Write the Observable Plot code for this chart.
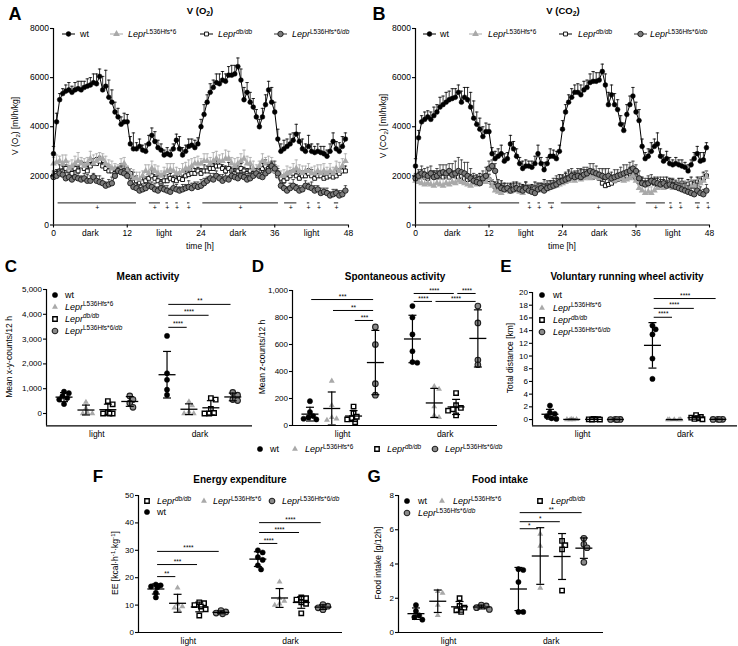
<!DOCTYPE html>
<html><head><meta charset="utf-8">
<script src="https://cdn.jsdelivr.net/npm/d3@7"></script>
<script src="https://cdn.jsdelivr.net/npm/@observablehq/plot@0.6"></script>
<style>
body{margin:0;background:#fff}
#fig{position:relative;width:738px;height:646px;overflow:hidden;font-family:"Liberation Sans",Arial,sans-serif;color:#000;background:#fff}
.t{position:absolute;white-space:nowrap;line-height:1}
.t sup{font-size:72%;position:relative;top:-0.5em;vertical-align:baseline;line-height:0}
.t sub{font-size:72%;position:relative;top:0.3em;vertical-align:baseline;line-height:0}
</style></head><body><div id="fig"></div>
<script>
// ---------------- DATA ----------------
const hours = [0,0.5,1,1.5,2,2.5,3,3.5,4,4.5,5,5.5,6,6.5,7,7.5,8,8.5,9,9.5,10,10.5,11,11.5,12,12.5,13,13.5,14,14.5,15,15.5,16,16.5,17,17.5,18,18.5,19,19.5,20,20.5,21,21.5,22,22.5,23,23.5,24,24.5,25,25.5,26,26.5,27,27.5,28,28.5,29,29.5,30,30.5,31,31.5,32,32.5,33,33.5,34,34.5,35,35.5,36,36.5,37,37.5,38,38.5,39,39.5,40,40.5,41,41.5,42,42.5,43,43.5,44,44.5,45,45.5,46,46.5,47,47.5];
const timeTicks = [0,6,12,18,24,30,36,42,48];
const timeTickLabels = ["0","dark","12","light","24","dark","36","light","48"];
const timeValueTicks = [0,2000,4000,6000,8000];

// V(O2)
const vo2Wt = [2900,4200,5100,5350,5450,5500,5400,5500,5550,5500,
 5600,5650,5700,5800,5750,6050,5500,5650,5200,5000,
 4600,4400,4100,4200,4200,3300,3100,3100,3200,3050,
 3000,3300,3650,3400,3150,3050,2850,2900,2850,3100,
 3450,3100,2850,3000,3200,3250,3150,3300,4000,4500,
 5000,5400,5600,5800,5750,5900,5850,6100,6100,6150,
 6450,5900,5100,5400,5000,4800,4400,4000,4400,4900,
 5500,5000,4600,3500,3000,3100,3200,3300,3450,3700,
 3400,3100,3000,3200,3000,2950,3000,2950,2900,2800,
 3000,3400,3100,3000,3200,3500];
const vo2WtErr = [300,350,250,200,250,300,250,300,300,350,
 250,300,300,350,400,300,550,650,700,500,
 400,350,300,350,300,300,650,250,300,200,
 300,350,300,400,300,250,200,250,200,200,
 250,500,300,250,300,250,300,250,300,400,
 300,350,300,350,400,350,300,350,400,350,
 350,450,500,400,400,350,300,300,350,400,
 350,600,400,400,300,350,300,400,300,400,
 350,400,300,450,300,250,300,250,300,250,
 300,350,300,350,400,250];
const vo2L536 = [2500,2550,2600,2500,2600,2300,2400,2500,2600,2500,
 2400,2500,2700,2500,2600,2700,2700,2500,2400,2300,
 2300,2200,2400,2500,2200,2000,1900,1900,1850,2000,
 2200,2100,2300,2200,2100,2000,2100,2200,2250,2200,
 2100,2100,2200,2300,2300,2400,2500,2500,2500,2600,
 2600,2500,2600,2700,2600,2600,2700,2700,2500,2400,
 2500,2600,2700,2500,2500,2300,2200,2400,2600,2500,
 2500,2400,2200,2100,2000,2000,2100,2100,2200,2300,
 2200,2100,2200,2200,2100,2100,2200,2100,2200,2100,
 2200,2100,2300,2200,2400,2600];
const vo2L536Err = [250,300,200,350,250,300,250,300,350,250,
 300,250,300,350,300,250,200,300,250,300,
 200,250,300,250,200,300,350,250,300,200,
 250,350,300,250,300,200,250,300,250,300,
 250,200,300,250,350,300,250,300,200,300,
 300,250,350,300,250,300,350,300,250,300,
 250,300,350,300,250,300,250,200,300,250,
 300,350,250,300,200,250,300,250,300,350,
 250,300,200,300,250,300,250,350,300,250,
 300,250,300,350,300,300];
const vo2Db = [2000,2100,2200,2200,2300,2200,2100,2300,2200,2400,
 2300,2200,2400,2500,2500,2600,2400,2300,2200,2200,
 2100,2200,2300,2200,2200,2100,1900,1800,1700,1750,
 1800,1900,2000,1900,1800,1700,1800,1800,1900,1850,
 1800,1900,1850,2000,2050,2100,2100,2200,2100,2200,
 2200,2300,2300,2400,2400,2300,2200,2300,2200,2100,
 2200,2300,2200,2100,2200,2100,2100,2200,2300,2400,
 2300,2400,2200,2000,1900,1800,1900,2000,2100,2000,
 1900,2000,2000,2100,2000,1900,2000,2000,1900,1950,
 2000,1950,2000,2100,2200,2200];
const vo2DbErr = [200,150,250,200,150,200,250,150,200,200,
 250,200,150,200,250,200,150,200,250,150,
 200,150,200,250,150,200,250,200,150,200,
 150,200,250,150,200,150,200,250,200,150,
 200,250,150,200,150,250,200,150,200,250,
 200,150,200,250,200,150,200,250,150,200,
 250,200,150,200,250,200,150,200,200,250,
 200,150,250,200,150,200,250,200,150,200,
 250,200,150,200,250,150,200,150,250,200,
 150,200,250,200,150,200];
const vo2Het = [1950,2000,2100,2050,1900,1950,1850,1950,1900,1850,
 1900,1800,1800,1950,1800,1750,1700,1600,1650,1700,
 2000,2200,2150,2100,2000,1700,1550,1500,1400,1450,
 1500,1600,1550,1450,1400,1500,1450,1400,1350,1500,
 1450,1400,1450,1500,1550,1500,1600,1550,1600,1700,
 1800,1900,1850,2000,1900,1800,1900,1850,2000,1950,
 1900,2000,1950,1850,1900,2000,2100,2000,1950,2100,
 2200,2400,2300,2100,1600,1500,1400,1500,1600,1500,
 1400,1450,1600,1550,1500,1400,1450,1300,1350,1300,
 1200,1250,1300,1200,1250,1400];
const vo2HetErr = [200,250,150,200,250,200,150,250,200,150,
 200,250,200,150,200,250,200,150,200,250,
 200,150,250,200,150,200,150,200,250,150,
 200,150,200,250,150,200,150,200,150,250,
 200,150,200,150,250,200,150,200,250,200,
 150,200,250,200,150,250,200,150,200,250,
 200,150,200,250,200,150,200,250,200,150,
 250,200,300,200,150,200,150,200,250,150,
 200,150,200,150,250,200,150,200,150,200,
 150,200,150,200,150,200];

// V(CO2)
const vco2Wt = [2400,3550,4200,4300,4400,4300,4450,4600,4800,4900,
 5000,5100,5150,5200,5400,5000,5200,5100,4800,4350,
 4100,3900,3600,3800,3800,2900,2700,2800,2900,2600,
 2700,3300,3100,2800,2500,2300,2400,2400,2350,2500,
 2900,2500,2250,2500,2800,2800,2700,3000,3900,4600,
 5000,5200,5400,5400,5300,5500,5600,5800,5850,5850,
 5900,6250,5700,4900,5300,4900,4700,4100,3850,4500,
 4900,5250,4600,4250,3200,2700,2800,3000,3200,3300,
 2800,2600,2700,2500,2450,2500,2450,2400,2350,2200,
 2450,2700,2900,2600,2650,3150];
const vco2WtErr = [300,300,250,300,250,300,350,300,400,350,
 400,350,400,350,300,450,400,500,600,700,
 500,450,400,350,300,250,300,300,350,300,
 250,350,300,300,250,300,250,200,250,300,
 350,250,300,250,300,250,300,250,350,300,
 300,350,300,350,400,350,300,350,400,350,
 300,300,450,500,400,450,400,350,300,400,
 350,350,400,450,300,250,300,350,300,450,
 300,250,300,250,200,250,200,250,200,250,
 200,250,300,350,300,200];
const vco2L536 = [1800,1750,1700,1650,1700,1650,1600,1700,1650,1600,
 1700,1650,1750,1700,1800,1750,1700,1650,1600,1700,
 1650,1700,1800,1750,1900,1600,1400,1350,1300,1400,
 1400,1350,1450,1400,1350,1300,1400,1450,1350,1400,
 1450,1400,1500,1450,1500,1550,1600,1650,1700,1750,
 1800,1850,1800,1900,1850,1900,1950,1900,2000,1950,
 1900,2000,1950,1900,1850,1800,1850,1900,1800,1850,
 1900,2000,1800,1500,1400,1300,1350,1300,1400,1500,
 1550,1500,1600,1550,1500,1600,1550,1500,1600,1500,
 1550,1600,1650,1700,1800,1950];
const vco2L536Err = [250,300,200,250,350,300,250,300,200,250,
 300,250,350,300,250,200,250,300,250,200,
 250,200,300,250,200,250,200,250,200,250,
 200,250,200,250,300,200,250,200,250,200,
 250,200,250,300,250,200,250,300,250,200,
 300,250,200,250,300,250,200,250,300,250,
 200,250,300,250,200,250,300,200,250,300,
 250,200,300,250,200,250,200,250,300,250,
 200,250,200,250,300,250,200,250,200,250,
 300,250,200,250,300,250];
const vco2Db = [1900,1950,2000,1950,1900,2000,2050,1950,2000,1950,
 2000,1950,2050,2000,1950,2000,1900,1850,1900,1800,
 1850,1900,1800,1900,1850,1700,1550,1500,1550,1500,
 1450,1500,1550,1500,1450,1500,1550,1500,1450,1500,
 1550,1500,1600,1550,1600,1650,1700,1800,1850,1900,
 1950,2000,1950,2050,2000,2050,2100,2000,1950,2000,
 1900,1700,1600,1650,1700,1800,1850,1900,1950,2000,
 2100,2000,1900,1750,1700,1650,1700,1750,1700,1650,
 1700,1650,1700,1750,1650,1600,1650,1700,1600,1650,
 1700,1650,1750,1800,1900,2000];
const vco2DbErr = [150,200,250,200,150,200,150,250,200,150,
 200,250,150,200,150,200,250,200,150,200,
 150,200,250,150,200,150,200,150,250,200,
 150,200,150,250,200,150,200,150,200,250,
 150,200,250,150,200,150,200,250,150,200,
 250,150,200,150,250,200,150,200,250,150,
 200,150,250,200,150,200,250,150,200,150,
 250,200,150,200,250,150,200,150,200,250,
 150,200,250,150,200,150,250,200,150,200,
 250,150,200,150,250,200];
const vco2Het = [1900,2000,2100,2050,2000,2100,1950,2000,2100,2150,
 2100,2200,2050,2100,2200,2150,2100,2000,1900,1800,
 1750,1700,1900,2000,2300,2400,2200,1600,1500,1450,
 1500,1400,1450,1500,1450,1400,1500,1400,1350,1300,
 1450,1500,1400,1500,1550,1600,1650,1750,1800,1850,
 1900,2000,1950,2000,1950,2050,2100,2200,2150,2100,
 2050,2000,1950,2000,1900,1950,2000,2050,2100,2150,
 2200,2300,2200,1900,1700,1650,1700,1800,1750,1700,
 1650,1700,1600,1650,1600,1550,1500,1450,1400,1350,
 1300,1250,1400,1300,1250,1400];
const vco2HetErr = [200,250,300,250,350,300,250,300,350,300,
 350,300,450,500,550,500,450,550,400,300,
 300,250,300,350,300,250,300,250,200,250,
 200,250,300,200,250,200,250,200,250,300,
 250,200,250,300,250,300,350,300,250,300,
 350,300,250,300,350,300,250,300,350,300,
 250,300,350,300,250,300,250,300,350,300,
 350,300,250,300,200,250,300,250,200,250,
 300,250,200,250,300,250,200,250,300,250,
 200,250,300,250,200,250];

// significance (+) bars: [start h, end h]
const sigO2 = [[0.75,13.5],[15.6,17.4],[18.3,18.7],[19.9,20.3],[21.8,22.2],[24.3,36.6],[37.6,39.6],[41.3,41.7],[43,43.4],[45.7,46.4]];
const sigCO2 = [[0.65,17],[18.4,18.8],[20,20.4],[21.7,22.7],[23.8,36],[37.7,40.8],[41.5,41.9],[43.1,43.5],[45.7,46.5],[47.6,48]];

// scatter panels: [wt, LeprL536Hfs*6, Lepr db/db, LeprL536Hfs*6/db]
const phases = ["light","dark"];
const cLight = [[880,820,700,620,560,380],[460,210,30,0,0],[500,370,50,0,0,0],[710,560,420,250]];
const cDark  = [[3130,1620,1360,960,750],[480,320,60,0,0],[620,560,180,20,0,0],[850,740,560,520]];
const cTicks = [0,1000,2000,3000,4000,5000];
const cSig = [[1,0,3,4400,"**"],[1,0,2,3960,"****"],[1,0,1,3475,"****"]];

const dLight = [[180,100,70,60,50,45],[330,150,60,50,40],[140,90,65,55,45,25],[730,600,310,225]];
const dDark  = [[885,800,675,550,465,470],[290,270,140,75,60],[240,150,130,120,110,75],[885,760,485,450]];
const dTicks = [0,200,400,600,800,1000];
const dSig = [[0,0,3,933,"***"],[0,1,3,852,"**"],[0,2,3,778,"***"],[1,0,2,978,"****"],[1,2,3,978,"****"],[1,0,1,919,"****"],[1,1,3,919,"****"]];

const eLight = [[2.2,1.1,0.9,0.5,0.2,0.1],[0.05,0.03,0.02,0,0],[0.1,0.06,0.03,0.02,0,0],[0.04,0.02,0.01,0]];
const eDark  = [[14.8,14.2,13.4,9.6,6.4],[0,0,0,0,0],[0.7,0.4,0.3,0.2,0.1,0.05],[0.05,0.03,0.02,0.01]];
const eTicks = [0,2,4,6,8,10,12,14,16,18,20];
const eSig = [[1,0,3,19.05,"****"],[1,0,2,17.5,"****"],[1,0,1,16.1,"****"]];

const fLight = [[17.5,17.2,16.8,16.5,14.5,12.8],[16.3,10.5,9.5,9.0,8.0],[11.0,10.7,10.0,9.5,8.5,6.2],[8.0,7.5,7.1,6.8]];
const fDark  = [[30.0,29.2,27.5,26.5,24.5,23.0],[18.5,12.5,11.5,10.5,10.0],[12.8,12.5,12.0,11.0,10.5,7.0],[10.2,9.6,9.0,8.3]];
const fTicks = [0,10,20,30,40,50];
const fSig = [[0,0,3,29.6,"****"],[0,0,2,24.8,"***"],[0,0,1,20.4,"**"],[1,0,3,40.1,"****"],[1,0,2,36.5,"****"],[1,0,1,32.5,"****"]];

const gLight = [[1.6,1.25,1.0,0.9,0.75],[2.4,2.3,1.6,1.0],[2.0,1.55,1.45,1.3,1.2],[1.6,1.55,1.45,1.35]];
const gDark  = [[3.7,3.65,2.95,1.2,1.2],[5.75,5.05,2.6],[5.35,5.1,4.85,2.45],[5.5,5.15,4.95,4.1]];
const gTicks = [0,2,4,6,8];
const gSig = [[1,0,3,7.0,"**"],[1,0,2,6.47,"*"],[1,0,1,6.06,"*"]];

// ---------------- STYLE / LAYOUT ----------------
const fig = document.getElementById("fig");
const W = 738, H = 646;
const FONT = '"Liberation Sans", Arial, sans-serif';
const KEYS = ["wt","l536","db","het"];
const STY = {
  wt:   {symbol: "circle",   fill: "#000",    stroke: "#000", sw: 0.5, r: 2.4, line: "#000",    err: "#000"},
  l536: {symbol: "triangle", fill: "#a9a9a9", stroke: "none", sw: 0,   r: 2.5, line: "#a9a9a9", err: "#a9a9a9"},
  db:   {symbol: "square",   fill: "#fff",    stroke: "#000", sw: 0.9, r: 2.2, line: "#000",    err: "#000"},
  het:  {symbol: "circle",   fill: "#7a7a7a", stroke: "#1a1a1a", sw: 0.9, r: 2.7, line: "#333", err: "#333"}
};
const SC = { // scatter marker styles
  wt:   {symbol: "circle",   fill: "#000",    stroke: "#000", sw: 0.5, r: 2.6},
  l536: {symbol: "triangle", fill: "#a9a9a9", stroke: "none", sw: 0,   r: 2.2},
  db:   {symbol: "square",   fill: "#fff",    stroke: "#000", sw: 1.4, r: 2.5},
  het:  {symbol: "circle",   fill: "#8a8a8a", stroke: "#222", sw: 1.1, r: 2.8}
};
const D3SYM = {circle: d3.symbolCircle, triangle: d3.symbolTriangle, square: d3.symbolSquare};
const capSym = {draw(ctx, size) { const r = Math.sqrt(size / Math.PI); ctx.moveTo(-r, 0); ctx.lineTo(r, 0); }};

function addText(html, x, y, o = {}) {
  const d = document.createElement("div");
  d.className = "t";
  d.innerHTML = html;
  d.style.left = x + "px"; d.style.top = y + "px";
  d.style.fontSize = (o.size || 8) + "px";
  if (o.bold) d.style.fontWeight = "bold";
  const ax = o.anchor === "start" ? "0" : o.anchor === "end" ? "-100%" : "-50%";
  d.style.transform = `translate(${ax},-50%)` + (o.rotate ? ` rotate(${o.rotate}deg)` : "");
  fig.appendChild(d);
}
function mount(svg) {
  svg.style.position = "absolute"; svg.style.left = "0px"; svg.style.top = "0px";
  fig.appendChild(svg);
}
const LABEL = {
  wt: "wt",
  l536: "<i>Lepr</i><sup>L536Hfs*6</sup>",
  db: "<i>Lepr</i><sup><i>db/db</i></sup>",
  het: "<i>Lepr</i><sup>L536Hfs*6/<i>db</i></sup>"
};
function legendItem(key, mx, tx, y, withLine, size) {
  const st = withLine ? STY[key] : SC[key];
  const w = withLine ? 13 : 8, h = 8;
  const area = Math.PI * st.r * st.r;
  const p = d3.symbol(D3SYM[st.symbol], area)();
  const svgNS = "http://www.w3.org/2000/svg";
  const s = document.createElementNS(svgNS, "svg");
  s.setAttribute("width", w); s.setAttribute("height", h);
  s.style.position = "absolute"; s.style.left = (mx - w / 2) + "px"; s.style.top = (y - h / 2) + "px";
  s.style.overflow = "visible";
  s.innerHTML = (withLine ? `<line x1="0" x2="${w}" y1="${h/2}" y2="${h/2}" stroke="${st.line}" stroke-width="1"/>` : "") +
    `<path transform="translate(${w/2},${h/2})" d="${p}" fill="${st.fill}" stroke="${st.stroke}" stroke-width="${st.sw}"/>`;
  fig.appendChild(s);
  addText(LABEL[key], tx, y, {anchor: "start", size: size || 9});
}

// ---------------- TIME SERIES (A, B) ----------------
function timeSeries(cfg) {
  const marks = [];
  for (const s of cfg.series) {
    const st = STY[s.key];
    const data = hours.map((t, i) => ({t, v: s.vals[i], top: s.vals[i] + s.errs[i]}));
    marks.push(
      Plot.ruleX(data, {x: "t", y1: "v", y2: "top", stroke: st.err, strokeWidth: 0.8}),
      Plot.dot(data, {x: "t", y: "top", symbol: capSym, r: 1.7, stroke: st.err, fill: "none", strokeWidth: 0.8}),
      Plot.line(data, {x: "t", y: "v", stroke: st.line, strokeWidth: 1}),
      Plot.dot(data, {x: "t", y: "v", symbol: st.symbol, r: st.r, fill: st.fill, stroke: st.stroke, strokeWidth: st.sw})
    );
  }
  const sigLevel = 900;
  marks.push(
    Plot.ruleY(cfg.sig, {x1: d => d[0], x2: d => d[1], y: sigLevel, stroke: "#000", strokeWidth: 0.9}),
    Plot.text(cfg.sig, {x: d => (d[0] + d[1]) / 2, y: sigLevel, text: () => "+", dy: 5, fontSize: 7, fill: "#000"}),
    Plot.ruleX([0], {stroke: "#000", strokeWidth: 1.2}),
    Plot.ruleY([0], {stroke: "#000", strokeWidth: 1.2}),
    Plot.axisY({ticks: timeValueTicks, label: null, tickSize: 3, tickPadding: 1.5, tickFormat: d => String(d), fontSize: 8.5, strokeWidth: 1.1}),
    Plot.axisX({ticks: [0, 12, 24, 36, 48], label: null, tickSize: 3, tickFormat: () => "", strokeWidth: 1.1}),
    Plot.axisX({ticks: timeTicks, label: null, tickSize: 0, tickPadding: 5, fontSize: 8.5, tickFormat: d => timeTickLabels[timeTicks.indexOf(d)]})
  );
  mount(Plot.plot({
    width: W, height: H,
    marginLeft: cfg.x0, marginRight: W - cfg.x1, marginTop: 28, marginBottom: H - 224.5,
    style: {background: "transparent", fontFamily: FONT, fontSize: "8.5px", overflow: "visible"},
    x: {domain: [0, 48], label: null},
    y: {domain: [0, 8000], label: null},
    marks
  }));
}

// ---------------- SCATTER PANELS (C-G) ----------------
const GROUP_POS = [[0, 1, 2, 3], [4.7, 5.7, 6.7, 7.7]];
const PHASE_POS = [1.5, 6.2];
const XD = [-0.8, 8.6];
const OFFSETS = [0, 1.6, -1.6, 3.2, -3.2, 4.8, -4.8, 6.4, -6.4, 8, -8];
function scatter(cfg) {
  const pxPerX = (cfg.x1 - cfg.x0) / (XD[1] - XD[0]);
  const ys = d3.scaleLinear(cfg.domain, [cfg.yBot, cfg.yTop]);
  const pts = [], stats = [];
  [cfg.light, cfg.dark].forEach((groups, pi) => {
    groups.forEach((vals, si) => {
      const pos = GROUP_POS[pi][si], key = KEYS[si];
      const placed = [];
      vals.slice().sort((a, b) => b - a).forEach(v => {
        const py = ys(v);
        const minD = c => placed.length ? d3.min(placed, p => Math.hypot(p.ox - c, p.py - py)) : Infinity;
        let off = OFFSETS.find(c => minD(c) >= 4.6);
        if (off === undefined) off = OFFSETS.slice(0, 9).reduce((a, c) => minD(c) > minD(a) ? c : a, 0);
        placed.push({ox: off, py});
        pts.push({x: pos + off / pxPerX, y: v, key});
      });
      const m = d3.mean(vals), sd = d3.deviation(vals) || 0;
      stats.push({x: pos, mean: m, lo: m - sd, hi: m + sd});
    });
  });
  const marks = [];
  for (const key of KEYS) {
    const st = SC[key];
    marks.push(Plot.dot(pts.filter(d => d.key === key), {x: "x", y: "y", symbol: st.symbol, r: st.r, fill: st.fill, stroke: st.stroke, strokeWidth: st.sw}));
  }
  const sig = cfg.sig.map(([p, a, b, y, label]) => ({x1: GROUP_POS[p][a] + 0.08, x2: GROUP_POS[p][b] - 0.08, y, label}));
  marks.push(
    Plot.ruleX(stats, {x: "x", y1: "lo", y2: "hi", stroke: "#000", strokeWidth: 1.2}),
    Plot.dot(stats, {x: "x", y: "hi", symbol: capSym, r: 4, stroke: "#000", fill: "none", strokeWidth: 1.2}),
    Plot.dot(stats, {x: "x", y: "lo", symbol: capSym, r: 4, stroke: "#000", fill: "none", strokeWidth: 1.2}),
    Plot.dot(stats, {x: "x", y: "mean", symbol: capSym, r: 8.5, stroke: "#000", fill: "none", strokeWidth: 1.3}),
    Plot.ruleY(sig, {x1: "x1", x2: "x2", y: "y", stroke: "#000", strokeWidth: 1}),
    Plot.text(sig, {x: d => (d.x1 + d.x2) / 2, y: "y", text: "label", dy: -3, fontSize: 6.5, fill: "#000"}),
    Plot.ruleX([XD[0]], {stroke: "#000", strokeWidth: 1.2}),
    Plot.ruleY([cfg.domain[0]], {stroke: "#000", strokeWidth: 1.2}),
    Plot.axisY({ticks: cfg.ticks, label: null, tickSize: 3, tickPadding: 1.5, tickFormat: cfg.fmt, fontSize: 8, strokeWidth: 1.1}),
    Plot.axisX({ticks: PHASE_POS, label: null, tickSize: 0, tickPadding: 5, fontSize: 8.5, tickFormat: d => phases[PHASE_POS.indexOf(d)]})
  );
  mount(Plot.plot({
    width: W, height: H,
    marginLeft: cfg.x0, marginRight: W - cfg.x1, marginTop: cfg.yTop, marginBottom: H - cfg.yBot,
    style: {background: "transparent", fontFamily: FONT, fontSize: "8px", overflow: "visible"},
    x: {domain: XD, label: null},
    y: {domain: cfg.domain, label: null},
    marks
  }));
}

// ---------------- BUILD ----------------
timeSeries({x0: 53, x1: 348, sig: sigO2, series: [
  {key: "db", vals: vo2Db, errs: vo2DbErr},
  {key: "l536", vals: vo2L536, errs: vo2L536Err},
  {key: "het", vals: vo2Het, errs: vo2HetErr},
  {key: "wt", vals: vo2Wt, errs: vo2WtErr}]});
timeSeries({x0: 415, x1: 709, sig: sigCO2, series: [
  {key: "db", vals: vco2Db, errs: vco2DbErr},
  {key: "l536", vals: vco2L536, errs: vco2L536Err},
  {key: "het", vals: vco2Het, errs: vco2HetErr},
  {key: "wt", vals: vco2Wt, errs: vco2WtErr}]});

const comma = d3.format(",");
scatter({x0: 46, x1: 252, yTop: 289, yBot: 425.4, domain: [-500, 5000], ticks: cTicks, fmt: comma, light: cLight, dark: cDark, sig: cSig});
scatter({x0: 292, x1: 497, yTop: 290, yBot: 425, domain: [0, 1000], ticks: dTicks, fmt: comma, light: dLight, dark: dDark, sig: dSig});
scatter({x0: 532, x1: 737, yTop: 292, yBot: 425.4, domain: [-1, 20], ticks: eTicks, fmt: d => String(d), light: eLight, dark: eDark, sig: eSig});
scatter({x0: 138, x1: 342, yTop: 495, yBot: 632, domain: [0, 50], ticks: fTicks, fmt: d => String(d), light: fLight, dark: fDark, sig: fSig});
scatter({x0: 398, x1: 603, yTop: 495, yBot: 632, domain: [0, 8], ticks: gTicks, fmt: d => String(d), light: gLight, dark: gDark, sig: gSig});

// panel letters
addText("A", 15, 13.5, {size: 18, bold: true});
addText("B", 379, 13.5, {size: 18, bold: true});
addText("C", 11, 266, {size: 17, bold: true});
addText("D", 258, 266, {size: 17, bold: true});
addText("E", 506, 266, {size: 17, bold: true});
addText("F", 98, 476, {size: 17, bold: true});
addText("G", 374, 476, {size: 17, bold: true});
// titles
addText("V (O<sub>2</sub>)", 200, 11, {size: 9.5, bold: true});
addText("V (CO<sub>2</sub>)", 563, 11, {size: 9.5, bold: true});
addText("Mean activity", 148, 277, {size: 10, bold: true});
addText("Spontaneous activity", 395, 277, {size: 10, bold: true});
addText("Voluntary running wheel activity", 627, 277, {size: 10, bold: true});
addText("Energy expenditure", 240, 480, {size: 10, bold: true});
addText("Food intake", 500, 480, {size: 10, bold: true});
// axis titles
addText("V (O<sub>2</sub>) [ml/h/kg]", 15, 126, {size: 8.5, rotate: -90});
addText("V (CO<sub>2</sub>) [ml/h/kg]", 383, 126, {size: 8.5, rotate: -90});
addText("time [h]", 200, 246, {size: 8.5});
addText("time [h]", 562, 246, {size: 8.5});
addText("Mean x-y-counts/12 h", 9, 357, {size: 8.5, rotate: -90});
addText("Mean z-counts/12 h", 262, 357, {size: 8.5, rotate: -90});
addText("Total distance [km]", 510, 358, {size: 8.5, rotate: -90});
addText("EE [kcal·h<sup>-1</sup>·kg<sup>-1</sup>]", 115, 563, {size: 8.5, rotate: -90});
addText("Food intake [g/12h]", 378, 563, {size: 8.5, rotate: -90});

// legends
[["wt", 68.5, 80], ["l536", 116, 128], ["db", 206, 218], ["het", 280.5, 292]].forEach(([k, m, t]) => legendItem(k, m, t, 34, true, 9));
[["wt", 429, 440], ["l536", 475.5, 488], ["db", 565.5, 578], ["het", 640.5, 650]].forEach(([k, m, t]) => legendItem(k, m, t, 34, true, 9));
[["wt", 294.5], ["l536", 306.5], ["db", 318.5], ["het", 330.5]].forEach(([k, y]) => legendItem(k, 55, 65, y, false, 9));
[["wt", 295], ["l536", 307.5], ["db", 320], ["het", 332]].forEach(([k, y]) => legendItem(k, 542, 553, y, false, 9));
[["wt", 260, 270], ["l536", 295, 305], ["db", 377, 387], ["het", 435, 445]].forEach(([k, m, t]) => legendItem(k, m, t, 449, false, 9));
[["db", 147, 157, 501], ["l536", 204, 213, 501], ["het", 272, 282, 501], ["wt", 147, 157, 512]].forEach(([k, m, t, y]) => legendItem(k, m, t, y, false, 9));
[["wt", 407, 418, 501], ["l536", 442, 453, 501], ["db", 540, 551, 501], ["het", 407, 418, 513]].forEach(([k, m, t, y]) => legendItem(k, m, t, y, false, 9));
</script></body></html>
